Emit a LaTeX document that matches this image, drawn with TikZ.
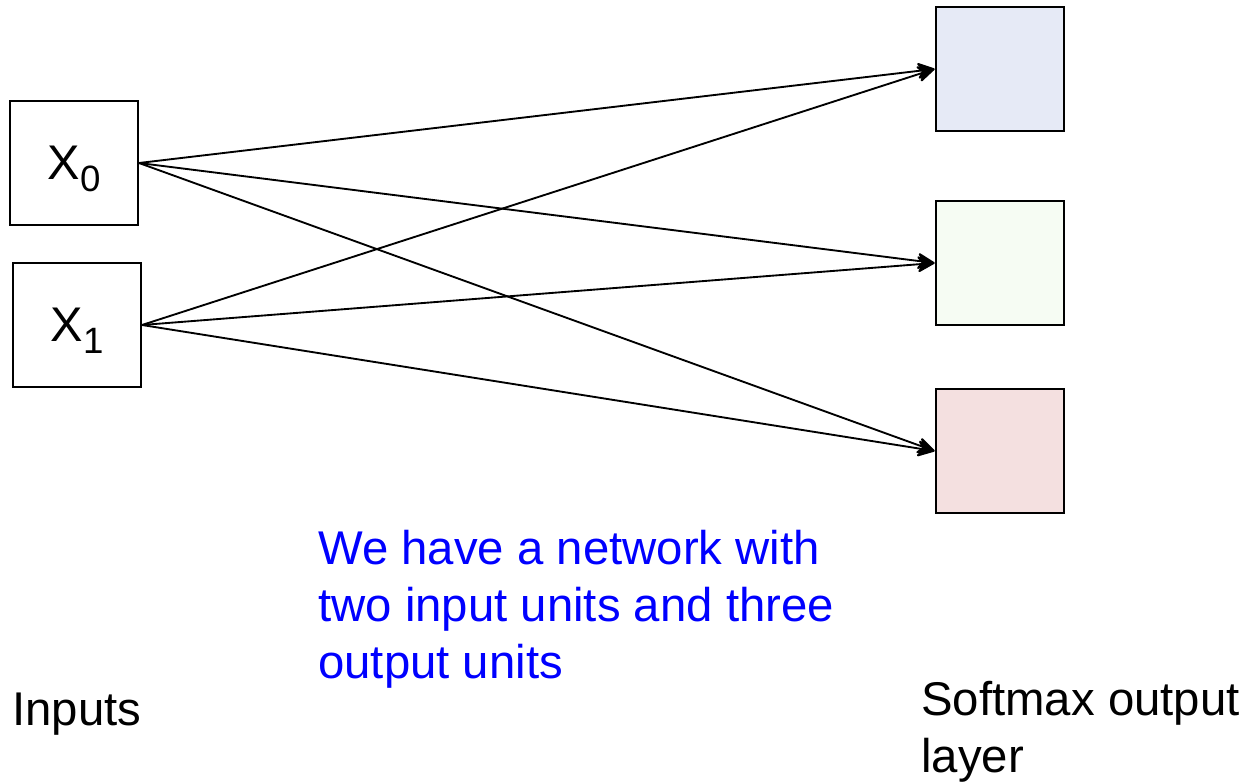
\documentclass[tikz,border=0pt]{standalone}
\usepackage{fontspec}
\setmainfont{Liberation Sans}
\usetikzlibrary{arrows.meta}
\definecolor{outA}{HTML}{E6EAF6}
\definecolor{outB}{HTML}{F6FCF3}
\definecolor{outC}{HTML}{F4E0E0}
\definecolor{notecol}{HTML}{0000FF}
\begin{document}
\begin{tikzpicture}[x=0.75pt,y=-0.75pt,
  unit/.style={draw=black, line width=1.5pt, minimum width=96pt,
    minimum height=93pt, inner sep=0pt, font=\fontsize{36.5}{40}\selectfont},
  link/.style={line width=1.4pt,
    -{Stealth[length=15pt,width=14pt,inset=5pt,round,line width=1.5pt]}},
  caption/.style={anchor=base west, inner sep=0pt, align=left,
    font=\fontsize{35.5}{42.6}\selectfont}
]
\useasboundingbox (0,0) rectangle (1251,784);

% input units
\node[unit] (x0) at (74,163)
  {X\raisebox{-9pt}[0pt][0pt]{\fontsize{27.5}{30}\selectfont 0}};
\node[unit] (x1) at (77,325)
  {X\raisebox{-9pt}[0pt][0pt]{\fontsize{27.5}{30}\selectfont 1}};

% softmax output units
\node[unit, fill=outA] (y0) at (999.5,69) {};
\node[unit, fill=outB] (y1) at (999.5,263) {};
\node[unit, fill=outC] (y2) at (999.5,451) {};

% fully connected weights
\foreach \i in {x0,x1}
  \foreach \o in {y0,y1,y2}
    \draw[link] (\i.east) -- (\o.west);

% labels (anchored on the baseline of their last line)
\node[caption] (inlab) at (12,725) {Inputs};
\node[caption] (outlab) at (921,772) {Softmax output\\layer};
\node[caption, text=notecol] (note) at (318,678)
  {We have a network with\\two input units and three\\output units};
\end{tikzpicture}
\end{document}
